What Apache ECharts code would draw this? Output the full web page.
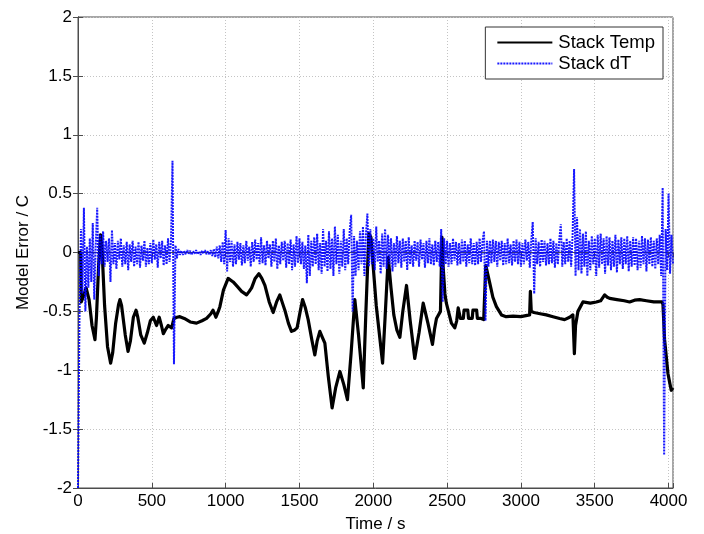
<!DOCTYPE html>
<html>
<head>
<meta charset="utf-8">
<script src="https://cdn.jsdelivr.net/npm/echarts@6/dist/echarts.min.js"></script>
<style>
html,body{margin:0;padding:0;background:#fff;}
#chart{width:704px;height:534px;}
</style>
</head>
<body>
<div id="chart"></div>
<script>
// ---- Data ----
const seriesNames = ['Stack Temp', 'Stack dT'];
const xTicks = [0, 500, 1000, 1500, 2000, 2500, 3000, 3500, 4000];
const yTicks = [-2, -1.5, -1, -0.5, 0, 0.5, 1, 1.5, 2];

// Stack Temp model error (time in s, error in C)
const tempTime = [0,18,22,35,55,75,95,115,125,140,153,162,180,200,221,235,255,275,284,295,320,339,355,375,393,405,425,449,470,490,510,532,550,565,578,595,611,634,650,670,690,720,760,803,840,871,900,914,925,934,950,961,985,1017,1051,1080,1108,1142,1160,1176,1200,1225,1245,1266,1295,1322,1345,1367,1385,1401,1425,1446,1465,1484,1505,1521,1540,1559,1585,1604,1620,1638,1655,1672,1695,1721,1745,1774,1800,1825,1850,1875,1900,1932,1950,1970,1984,2020,2063,2080,2101,2120,2139,2160,2180,2200,2225,2250,2281,2310,2338,2370,2401,2415,2428,2455,2465,2472,2485,2495,2529,2552,2565,2575,2585,2590,2610,2615,2640,2645,2670,2675,2700,2705,2730,2748,2755,2762,2789,2810,2834,2868,2900,2947,3000,3059,3064,3070,3088,3130,3172,3217,3262,3296,3330,3352,3362,3370,3386,3420,3470,3511,3540,3567,3585,3601,3650,3700,3736,3770,3804,3850,3900,3955,3962,3973,3996,4010,4018,4030];
const tempErr = [0,0,-0.42,-0.38,-0.30,-0.40,-0.62,-0.74,-0.55,-0.10,0.15,0.05,-0.45,-0.80,-0.94,-0.85,-0.60,-0.44,-0.40,-0.45,-0.70,-0.84,-0.75,-0.55,-0.49,-0.55,-0.70,-0.77,-0.68,-0.58,-0.55,-0.62,-0.55,-0.62,-0.69,-0.65,-0.62,-0.64,-0.56,-0.55,-0.545,-0.56,-0.59,-0.60,-0.58,-0.56,-0.52,-0.49,-0.52,-0.55,-0.50,-0.46,-0.32,-0.22,-0.25,-0.29,-0.33,-0.36,-0.33,-0.30,-0.22,-0.18,-0.22,-0.28,-0.42,-0.51,-0.42,-0.36,-0.43,-0.49,-0.60,-0.67,-0.66,-0.64,-0.50,-0.40,-0.47,-0.57,-0.75,-0.87,-0.75,-0.67,-0.72,-0.77,-1.05,-1.32,-1.15,-1.01,-1.12,-1.25,-0.85,-0.40,-0.70,-1.15,-0.50,0.16,0.13,-0.45,-0.94,-0.55,-0.04,-0.30,-0.53,-0.66,-0.72,-0.50,-0.28,-0.58,-0.90,-0.68,-0.43,-0.60,-0.78,-0.65,-0.56,-0.50,0.13,-0.10,-0.35,-0.43,-0.60,-0.64,-0.58,-0.47,-0.48,-0.56,-0.56,-0.49,-0.49,-0.56,-0.56,-0.49,-0.49,-0.56,-0.56,-0.57,-0.58,-0.11,-0.26,-0.38,-0.46,-0.53,-0.545,-0.54,-0.545,-0.53,-0.33,-0.50,-0.51,-0.52,-0.53,-0.545,-0.56,-0.57,-0.55,-0.53,-0.86,-0.62,-0.50,-0.42,-0.43,-0.42,-0.41,-0.36,-0.38,-0.39,-0.40,-0.41,-0.42,-0.405,-0.40,-0.41,-0.42,-0.42,-0.44,-0.74,-1.03,-1.12,-1.17,-1.15];

// Stack dT model error, sampled every 10 s starting at 0 s
const dTStep = 10;
const dTErr = [
-2.0,-0.55,0.2,-0.35,0.38,-0.5,0.05,-0.3,0.12,-0.25,
0.25,-0.4,0.05,0.38,-0.2,0.15,-0.1,0.18,-0.12,0.1,
-0.08,0.12,-0.25,0.19,-0.1,0.08,-0.14,0.1,-0.06,0.12,
-0.12,0.06,-0.1,0.09,-0.15,0.07,-0.08,0.1,-0.12,0.05,
-0.1,0.09,-0.13,0.06,-0.07,0.1,-0.12,0.04,-0.1,0.08,
-0.09,0.11,-0.06,0.07,-0.13,0.09,-0.05,0.1,-0.11,0.06,
-0.1,0.12,-0.08,0.1,0.78,-0.95,0.06,-0.05,0.03,-0.02,
0.015,-0.02,0.01,-0.015,0.02,-0.01,0.015,-0.02,0.01,-0.01,
0.02,-0.015,0.01,-0.02,0.015,-0.01,0.02,-0.015,0.01,-0.02,
0.02,-0.03,0.03,-0.04,0.05,-0.05,0.06,-0.08,0.09,-0.1,
0.19,-0.16,0.12,-0.08,0.1,-0.12,0.07,-0.1,0.09,-0.06,
0.08,-0.11,0.06,-0.09,0.1,-0.07,0.05,-0.12,0.09,-0.08,
0.11,-0.06,0.08,-0.1,0.13,-0.09,0.06,-0.11,0.1,-0.05,
0.07,-0.12,0.1,-0.08,0.12,-0.14,0.06,-0.1,0.09,-0.07,
0.1,-0.13,0.08,-0.1,0.11,-0.15,0.07,-0.12,0.14,-0.09,
0.12,-0.1,0.09,-0.14,0.06,-0.26,0.15,-0.2,0.1,-0.12,
0.13,-0.1,0.16,-0.15,0.08,-0.18,0.2,-0.12,0.1,-0.16,
0.18,-0.14,0.12,-0.2,0.22,-0.1,0.15,-0.18,0.1,-0.12,
0.2,-0.15,0.12,-0.1,0.18,0.32,-0.5,0.14,-0.2,0.1,
-0.15,0.18,-0.1,0.22,-0.2,0.15,0.33,-0.12,0.2,-0.1,
0.12,-0.15,0.22,-0.08,0.1,-0.18,0.16,-0.12,0.2,-0.14,
0.15,-0.1,0.12,-0.16,0.08,-0.12,0.14,-0.09,0.1,-0.13,
0.12,-0.08,0.1,-0.15,0.13,-0.1,0.06,-0.12,0.1,-0.07,
0.09,-0.12,0.11,-0.06,0.08,-0.13,0.1,-0.09,0.12,-0.1,
0.07,-0.11,0.1,-0.08,0.09,-0.12,0.2,-0.42,0.12,-0.1,
0.1,-0.12,0.08,-0.1,0.12,-0.07,0.09,-0.11,0.08,-0.1,
0.11,-0.08,0.1,-0.12,0.07,-0.09,0.12,-0.1,0.08,-0.11,
0.09,-0.1,0.12,-0.08,0.1,0.18,-0.58,0.1,-0.12,0.1,
-0.09,0.11,-0.08,0.1,-0.12,0.09,-0.07,0.1,-0.11,0.08,
-0.1,0.12,-0.09,0.07,-0.11,0.1,-0.08,0.11,-0.1,0.09,
-0.12,0.08,-0.1,0.11,-0.07,0.09,-0.13,0.1,0.26,-0.35,
0.12,-0.1,0.09,-0.12,0.11,-0.08,0.1,-0.11,0.08,-0.1,
0.12,-0.09,0.1,-0.13,0.08,-0.1,0.11,0.24,-0.12,0.09,
-0.1,0.12,-0.08,0.1,-0.12,0.15,0.71,-0.2,0.3,-0.15,
0.2,-0.18,0.16,-0.12,0.18,-0.2,0.1,-0.15,0.14,-0.1,
0.12,-0.2,0.15,-0.13,0.16,-0.1,0.12,-0.18,0.14,-0.11,
0.13,-0.15,0.1,-0.12,0.15,-0.17,0.11,-0.1,0.13,-0.14,
0.12,-0.1,0.14,-0.16,0.1,-0.12,0.13,-0.11,0.12,-0.15,
0.1,-0.13,0.14,-0.1,0.12,-0.16,0.11,-0.1,0.13,-0.12,
0.1,-0.14,0.12,-0.1,0.15,-0.2,0.55,-1.72,0.2,-0.15,
0.5,-0.18,0.15,-0.1
];

// ---- Chart ----
const FONT = 'Liberation Sans, Arial, sans-serif';
const tempData = tempTime.map((t, i) => [t, tempErr[i]]);
const dTData = dTErr.map((v, i) => [i * dTStep, v]);

const frameColor = '#4d4d4d';
const gridLine = { show: true, lineStyle: { color: '#c4c4c4', type: [1, 2], width: 1 } };
const tick = { show: true, inside: true, length: 5, lineStyle: { color: frameColor } };

function xLabel(v) { return xTicks.indexOf(v) >= 0 ? String(v) : ''; }
function yLabel(v) { return yTicks.indexOf(v) >= 0 ? String(v) : ''; }

const chart = echarts.init(document.getElementById('chart'), null, { renderer: 'canvas' });
chart.setOption({
  animation: false,
  backgroundColor: '#fff',
  grid: { left: 78, right: 31, top: 17, bottom: 46, show: true, borderColor: frameColor, borderWidth: 1,
          containLabel: false, outerBoundsMode: 'none' },
  legend: {
    data: seriesNames,
    orient: 'vertical',
    right: 41, top: 27,
    backgroundColor: '#fff',
    borderColor: '#333', borderWidth: 1,
    padding: [6, 8, 6, 11],
    itemGap: 2,
    itemWidth: 55, itemHeight: 14,
    itemStyle: { opacity: 0 },
    textStyle: { fontFamily: FONT, fontSize: 18.5, lineHeight: 19, color: '#000', padding: [0, 0, 0, 1] }
  },
  xAxis: [{
    type: 'value', min: 0, max: 4030, interval: 500,
    name: 'Time / s', nameLocation: 'middle', nameGap: 28,
    nameTextStyle: { fontFamily: FONT, fontSize: 17, color: '#000' },
    axisLine: { show: true, onZero: false, lineStyle: { color: frameColor } },
    axisTick: tick,
    axisLabel: { fontFamily: FONT, fontSize: 17, color: '#000', margin: 5, formatter: xLabel },
    splitLine: gridLine
  }, {
    type: 'value', min: 0, max: 4030, interval: 500, position: 'top',
    axisLine: { show: true, lineStyle: { color: frameColor } },
    axisTick: tick, axisLabel: { show: false }, splitLine: { show: false }
  }],
  yAxis: [{
    type: 'value', min: -2, max: 2, interval: 0.5,
    name: 'Model Error / C', nameLocation: 'middle', nameGap: 44,
    nameTextStyle: { fontFamily: FONT, fontSize: 17, color: '#000' },
    axisLine: { show: true, onZero: false, lineStyle: { color: frameColor } },
    axisTick: tick,
    axisLabel: { fontFamily: FONT, fontSize: 17, color: '#000', margin: 6, formatter: yLabel },
    splitLine: gridLine
  }, {
    type: 'value', min: -2, max: 2, interval: 0.5, position: 'right',
    axisLine: { show: true, lineStyle: { color: frameColor } },
    axisTick: tick, axisLabel: { show: false }, splitLine: { show: false }
  }],
  series: [{
    name: seriesNames[0], type: 'line', data: tempData,
    showSymbol: false, symbol: 'none',
    lineStyle: { color: '#000', width: 3.2, join: 'round' },
    itemStyle: { color: '#000' },
    clip: true, z: 2
  }, {
    name: seriesNames[1], type: 'line', data: dTData,
    showSymbol: false, symbol: 'none',
    lineStyle: { color: '#0000ff', width: 2, type: [2, 1], opacity: 0.9 },
    itemStyle: { color: '#0000ff' },
    clip: true, z: 3
  }]
});
</script>
</body>
</html>
